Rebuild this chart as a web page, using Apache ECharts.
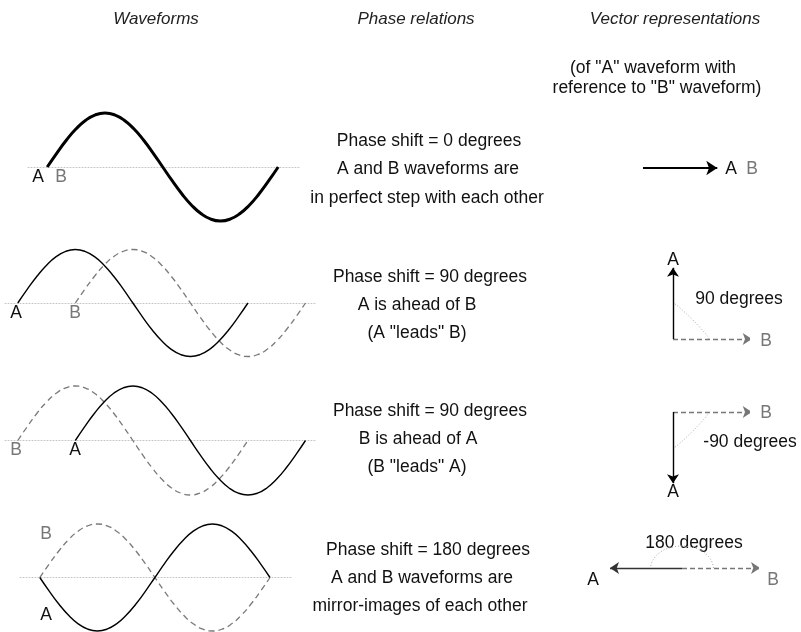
<!DOCTYPE html>
<html><head><meta charset="utf-8">
<script src="https://cdn.jsdelivr.net/npm/echarts@6/dist/echarts.min.js"></script>
<style>html,body{margin:0;padding:0;background:#fff}#c{width:801px;height:632px}</style>
</head><body><div id="c"></div>
<script>
// ---------- data ----------
const cycleDeg = [0,15,30,45,60,75,90,105,120,135,150,165,180,195,210,225,240,255,270,285,300,315,330,345,360];
const cycleShape = [0,0.259,0.5,0.707,0.866,0.966,1,0.966,0.866,0.707,0.5,0.259,0,-0.259,-0.5,-0.707,-0.866,-0.966,-1,-0.966,-0.866,-0.707,-0.5,-0.259,0];
const waveStartA = [0, 0, 90, 0];
const waveStartB = [0, 90, 0, 0];
const waveSignA = [1, 1, 1, -1];
const waveSignB = [1, 1, 1, 1];
const phaseShift = [0, 90, -90, 180];
const vecA = [[0.99,0],[0,0.95],[0,-0.95],[-0.96,0]];
const vecB = [[0.99,0],[1.05,0],[1.05,0],[1.04,0]];
const arcRadius = [0, 0.48, 0.48, 0.42];
const headers = ['Waveforms', 'Phase relations', 'Vector representations'];
const subNote = ['(of "A" waveform with', 'reference to "B" waveform)'];
const relationText = [
  ['Phase shift = 0 degrees', 'A and B waveforms are', 'in perfect step with each other'],
  ['Phase shift = 90 degrees', 'A is ahead of B', '(A "leads" B)'],
  ['Phase shift = 90 degrees', 'B is ahead of A', '(B "leads" A)'],
  ['Phase shift = 180 degrees', 'A and B waveforms are', 'mirror-images of each other']
];
const angleText = ['', '90 degrees', '-90 degrees', '180 degrees'];

// ---------- layout ----------
const waveGrid = [
  {left:28, top:113, width:272, height:108, min:-30, max:394},
  {left:5, top:249.5, width:312, height:107, min:-20, max:468},
  {left:5, top:386, width:312, height:109, min:-20, max:468},
  {left:20, top:524, width:273, height:107, min:-31, max:396}
];
const vecOrigin = [[643,168],[673,339],[673,412],[682,579]];
const arcBulgePx = [0, 2, 2, 22];
const VU = 75;
const waveLabelPos = [
  [[38,177],[61,177]],
  [[16,313],[75,313]],
  [[75,450],[16,450]],
  [[46,615],[46,534]]
];
const vecLabelPos = [
  [[731,169],[752,169]],
  [[673,260],[766,341]],
  [[673,492],[766,413]],
  [[593,580],[773,580]]
];
const angleTextPos = [[0,0],[739,299],[750,442],[694,543]];
const relCenters = [[429,428,427],[430,417,417],[430,418,417],[428,422,420]];
const relY = [[141,169,198],[277,305,333],[411,439,467],[550,578,606]];

const FONT = '"Liberation Sans", Arial, sans-serif';
const FS = 17.5;
const BLACK = '#111';
const GRAY = '#777';

const grids = [], xAxes = [], yAxes = [], series = [], graphics = [];

function txt(text, x, y, color, size, italic, align) {
  graphics.push({type:'text', x:x, y:y, silent:true, style:{
    text:text, fill:color, font:(italic?'italic ':'') + size + 'px ' + FONT,
    textAlign:align||'center', textVerticalAlign:'middle'}});
}

for (let r = 0; r < 4; r++) {
  const g = waveGrid[r];
  grids.push({left:g.left, top:g.top, width:g.width, height:g.height});
  xAxes.push({type:'value', gridIndex:grids.length-1, min:g.min, max:g.max,
    axisLine:{show:true, onZero:true, lineStyle:{color:'#c4c4c4', width:1, type:[1,2]}},
    axisTick:{show:false}, axisLabel:{show:false}, splitLine:{show:false}});
  yAxes.push({type:'value', gridIndex:grids.length-1, min:-1, max:1, show:false, splitLine:{show:false}});
  const gi = grids.length-1;
  const dataA = cycleDeg.map((d,i)=>[waveStartA[r]+d, waveSignA[r]*cycleShape[i]]);
  const dataB = cycleDeg.map((d,i)=>[waveStartB[r]+d, waveSignB[r]*cycleShape[i]]);
  series.push({type:'line', xAxisIndex:gi, yAxisIndex:gi, data:dataB, smooth:true, showSymbol:false, clip:false, z:2,
    lineStyle:{color:'#7a7a7a', width:1.3, type:[6,4]}, silent:true});
  series.push({type:'line', xAxisIndex:gi, yAxisIndex:gi, data:dataA, smooth:true, showSymbol:false, clip:false, z:3,
    lineStyle:{color:'#000', width: r===0 ? 3 : 1.4}, silent:true});
  txt('A', waveLabelPos[r][0][0], waveLabelPos[r][0][1], BLACK, FS);
  txt('B', waveLabelPos[r][1][0], waveLabelPos[r][1][1], GRAY, FS);
}

for (let r = 0; r < 4; r++) {
  const o = vecOrigin[r];
  grids.push({left:o[0]-VU, top:o[1]-VU, width:2*VU, height:2*VU});
  const gi = grids.length-1;
  xAxes.push({type:'value', gridIndex:gi, min:-1, max:1, show:false, splitLine:{show:false}});
  yAxes.push({type:'value', gridIndex:gi, min:-1, max:1, show:false, splitLine:{show:false}});
  if (r > 0) {
    series.push({type:'lines', coordinateSystem:'cartesian2d', xAxisIndex:gi, yAxisIndex:gi, z:4,
      symbol:['none','arrow'], symbolSize:9, silent:true,
      lineStyle:{color:'#777', width:1.3, type:[5,3], opacity:1},
      data:[{coords:[[0,0], vecB[r]]}]});
  }
  series.push({type:'lines', coordinateSystem:'cartesian2d', xAxisIndex:gi, yAxisIndex:gi, z:5,
    symbol:['none','arrow'], symbolSize: r===0 ? 11 : 9, silent:true,
    lineStyle:{color: r===3 ? '#333' : '#000', width: r===0 ? 2.2 : 1.4, opacity:1},
    data:[{coords:[[0,0], vecA[r]]}]});
  if (r > 0) {
    const row = r;
    series.push({type:'custom', coordinateSystem:'cartesian2d', xAxisIndex:gi, yAxisIndex:gi, z:1, silent:true,
      data:[[0,0]],
      renderItem:function(params, api){
        const rad = arcRadius[row];
        const a2 = phaseShift[row]*Math.PI/180;
        const O = api.coord([0,0]);
        const P1 = api.coord([rad,0]);
        const P2 = api.coord([rad*Math.cos(a2), rad*Math.sin(a2)]);
        const M = [(P1[0]+P2[0])/2, (P1[1]+P2[1])/2];
        let dx = M[0]-O[0], dy = M[1]-O[1];
        let len = Math.sqrt(dx*dx+dy*dy);
        if (len < 1) { dx = 0; dy = -1; len = 1; }
        const b = arcBulgePx[row];
        const c1x = P1[0] + (M[0]-P1[0])*0.1 + dx/len*b*1.33;
        const c1y = P1[1] + (M[1]-P1[1])*0.1 + dy/len*b*1.33;
        const c2x = P2[0] + (M[0]-P2[0])*0.1 + dx/len*b*1.33;
        const c2y = P2[1] + (M[1]-P2[1])*0.1 + dy/len*b*1.33;
        return {type:'bezierCurve', shape:{x1:P1[0], y1:P1[1], x2:P2[0], y2:P2[1],
          cpx1:c1x, cpy1:c1y, cpx2:c2x, cpy2:c2y},
          style:{stroke:'#aaaaaa', fill:null, lineWidth:1, lineDash:[1,2]}};
      }});
  }
  txt('A', vecLabelPos[r][0][0], vecLabelPos[r][0][1], BLACK, FS);
  txt('B', vecLabelPos[r][1][0], vecLabelPos[r][1][1], GRAY, FS);
  if (angleText[r]) txt(angleText[r], angleTextPos[r][0], angleTextPos[r][1], BLACK, FS);
  for (let k = 0; k < 3; k++) txt(relationText[r][k], relCenters[r][k], relY[r][k], BLACK, FS);
}

txt(headers[0], 156, 19, '#222', 17, true);
txt(headers[1], 416, 19, '#222', 17, true);
txt(headers[2], 675, 19, '#222', 17, true);
txt(subNote[0], 653, 68, BLACK, FS);
txt(subNote[1], 657, 88, BLACK, FS);

const chart = echarts.init(document.getElementById('c'), null, {renderer:'canvas'});
chart.setOption({
  animation:false,
  backgroundColor:'#fff',
  grid:grids, xAxis:xAxes, yAxis:yAxes, series:series, graphic:graphics
});
</script></body></html>
